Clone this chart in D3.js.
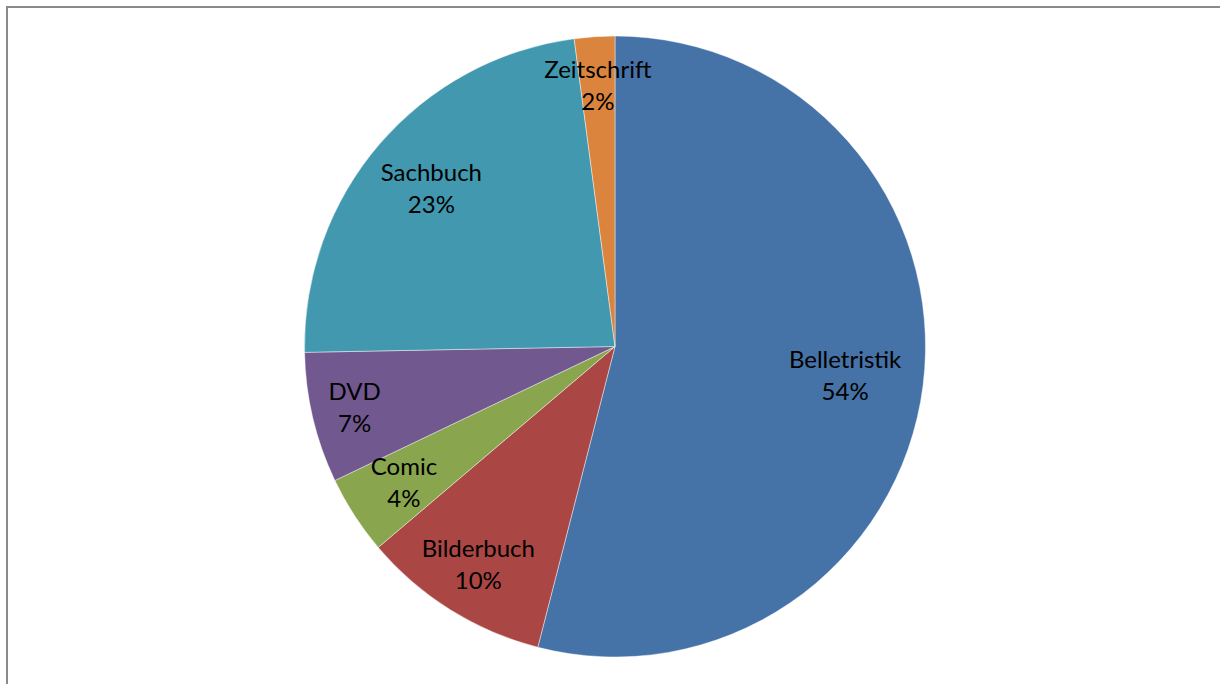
<!DOCTYPE html>
<html>
<head>
<meta charset="utf-8">
<script src="https://cdn.jsdelivr.net/npm/d3@7"></script>
<style>
  html, body { margin: 0; padding: 0; background: #ffffff; overflow: hidden; }
  svg { display: block; }
</style>
</head>
<body>
<svg id="chart" width="1220" height="684"></svg>
<script>
// Media types in the collection, share of holdings (percent)
const categories = ["Belletristik", "Bilderbuch", "Comic", "DVD", "Sachbuch", "Zeitschrift"];
const shares = [54.0, 9.8, 4.1, 6.8, 23.2, 2.1];

// Slice colours, one per category
const sliceColors = ["#4572A7", "#AA4643", "#89A54E", "#71588F", "#4198AF", "#DB843D"];

// Where each label sits along its slice's bisector, as a fraction of the radius
const labelRadiusFactor = [0.747, 0.83, 0.81, 0.862, 0.78, 0.841];

const width = 1220, height = 684;
const cx = 615, cy = 346.5, radius = 310.5;

const svg = d3.select("#chart");

// Chart frame (only its top and left edges fall inside the page)
svg.append("rect")
  .attr("x", 7).attr("y", 7)
  .attr("width", 1400).attr("height", 900)
  .attr("fill", "none")
  .attr("stroke", "#8a8a8a")
  .attr("stroke-width", 2);

const data = categories.map((c, i) => ({ name: c, value: shares[i], idx: i }));
const total = d3.sum(shares);

const pie = d3.pie()
  .value(d => d.value)
  .sort(null)
  .startAngle(0)
  .endAngle(2 * Math.PI);

const arcs = pie(data);
const arc = d3.arc().innerRadius(0).outerRadius(radius);
const color = d3.scaleOrdinal().domain(categories).range(sliceColors);

const g = svg.append("g").attr("transform", `translate(${cx},${cy})`);

g.selectAll("path.slice")
  .data(arcs)
  .join("path")
  .attr("class", "slice")
  .attr("d", arc)
  .attr("fill", d => color(d.data.name))
  .attr("stroke", "#ffffff")
  .attr("stroke-opacity", 0.55)
  .attr("stroke-width", 0.8);

const fmt = v => Math.round(v / total * 100) + "%";

const labels = g.selectAll("text.label")
  .data(arcs)
  .join("text")
  .attr("class", "label")
  .attr("text-anchor", "middle")
  .attr("font-family", "Lato, 'Noto Sans', sans-serif")
  .attr("font-size", 24)
  .attr("fill", "#000000")
  .attr("transform", d => {
    const r = radius * labelRadiusFactor[d.data.idx];
    const [x, y] = d3.arc().innerRadius(r).outerRadius(r).centroid(d);
    return `translate(${x},${y})`;
  });

labels.append("tspan")
  .attr("x", 0).attr("y", -8)
  .text(d => d.data.name);

labels.append("tspan")
  .attr("x", 0).attr("y", 24)
  .text(d => fmt(d.data.value));
</script>
</body>
</html>
